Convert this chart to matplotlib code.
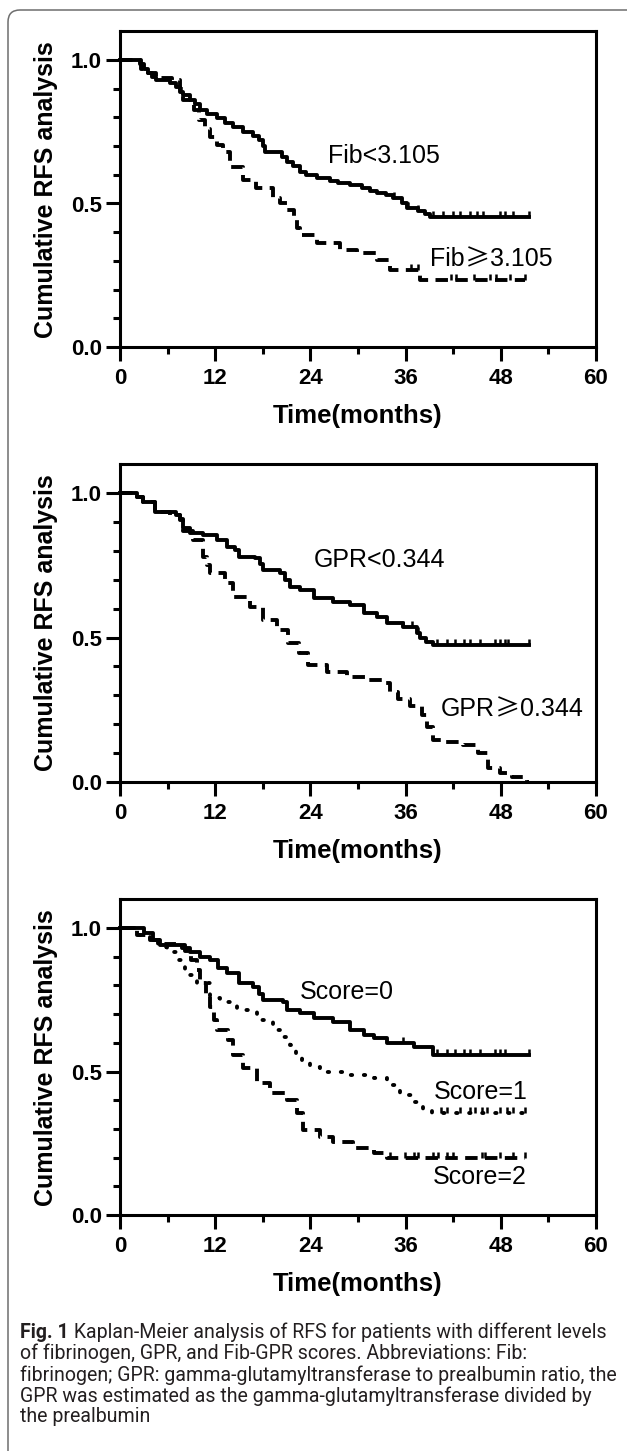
import matplotlib
matplotlib.use('Agg')
import matplotlib.pyplot as plt
from matplotlib.path import Path
from matplotlib.patches import FancyBboxPatch
from matplotlib.transforms import IdentityTransform, offset_copy
from matplotlib.ticker import FixedLocator
from matplotlib import font_manager
import numpy as np

# ---------------- data ----------------
x_ticks = [0, 12, 24, 36, 48, 60]
y_ticks = [0.0, 0.5, 1.0]
y_ticklabels = ["0.0", "0.5", "1.0"]
x_label = "Time(months)"
y_label = "Cumulative RFS analysis"

# Panel 1: fibrinogen
fib_low_t = [0, 2.5, 3.0, 3.5, 4.0, 4.5, 6.3, 7.0, 7.5, 8.0, 8.8, 9.5, 10.1, 11.0, 12.2, 13.2,
             14.3, 15.5, 16.8, 17.5, 18.0, 18.3, 20.4, 21.0, 21.8, 22.7, 23.5, 24.8, 26.5,
             27.5, 29.0, 30.5, 31.5, 32.4, 33.5, 34.4, 35.5, 36.2, 37.5, 38.5, 39.1, 51.5]
fib_low_s = [1.0, 0.985, 0.97, 0.955, 0.94, 0.93, 0.92, 0.905, 0.89, 0.878, 0.862, 0.845, 0.826,
             0.812, 0.798, 0.782, 0.767, 0.75, 0.735, 0.72, 0.70, 0.68, 0.662, 0.645, 0.63, 0.61,
             0.60, 0.589, 0.58, 0.572, 0.564, 0.555, 0.545, 0.537, 0.528, 0.519, 0.50, 0.484,
             0.475, 0.465, 0.453, 0.453]
fib_low_cens = [34.5, 36.3, 37.5, 39.5, 40.7, 42.0, 42.9, 44.1, 45.0, 45.8, 47.9, 48.5, 49.6, 51.5]

fib_high_t = [0, 2.7, 3.5, 4.5, 6.5, 7.5, 8.0, 9.3, 10.0, 10.7, 11.4, 12.2, 13.0, 13.9, 15.5,
              17.2, 19.3, 20.2, 21.0, 21.9, 22.3, 22.7, 24.8, 27.7, 29.9, 32.4, 34.0, 37.8, 51.0]
fib_high_s = [1.0, 0.97, 0.955, 0.937, 0.93, 0.90, 0.86, 0.826, 0.79, 0.76, 0.732, 0.705, 0.68,
              0.627, 0.582, 0.554, 0.519, 0.50, 0.477, 0.442, 0.415, 0.39, 0.362, 0.338, 0.327,
              0.303, 0.268, 0.233, 0.233]
fib_high_cens = [36.7, 37.5, 41.7, 42.3, 44.6, 46.7, 47.4, 49.2, 51.0]

# Panel 2: GPR
gpr_low_t = [0, 2.1, 2.9, 4.4, 7.0, 7.6, 8.0, 8.8, 10.5, 12.2, 13.5, 14.5, 15.0, 17.0, 17.6,
             18.0, 20.2, 20.8, 21.4, 22.7, 24.4, 26.9, 29.0, 30.7, 32.4, 33.7, 35.7, 37.4, 37.8,
             38.6, 39.5, 51.5]
gpr_low_s = [1.0, 0.986, 0.969, 0.934, 0.925, 0.905, 0.879, 0.862, 0.855, 0.837, 0.813, 0.803,
             0.779, 0.775, 0.755, 0.734, 0.723, 0.70, 0.675, 0.664, 0.637, 0.623, 0.612, 0.585,
             0.571, 0.55, 0.536, 0.515, 0.498, 0.485, 0.474, 0.474]
gpr_low_cens = [35.7, 36.8, 37.5, 40.0, 41.2, 42.2, 43.3, 44.1, 45.4, 47.3, 47.9, 48.5, 48.9, 51.5]

gpr_high_t = [0, 2.1, 2.9, 4.4, 6.3, 7.6, 8.0, 9.2, 10.5, 11.0, 11.4, 13.2, 14.3, 16.4, 18.0,
              19.8, 21.2, 22.5, 23.7, 26.1, 28.6, 31.1, 33.3, 34.0, 35.1, 36.6, 38.1, 38.7, 39.5,
              40.9, 43.2, 45.1, 46.4, 47.9, 49.4, 51.3, 51.5]
gpr_high_s = [1.0, 0.986, 0.969, 0.934, 0.925, 0.91, 0.87, 0.837, 0.779, 0.75, 0.723, 0.689,
              0.64, 0.606, 0.561, 0.526, 0.481, 0.446, 0.405, 0.379, 0.363, 0.353, 0.343, 0.31,
              0.288, 0.263, 0.232, 0.19, 0.145, 0.138, 0.128, 0.100, 0.048, 0.031, 0.017, 0.0, 0.0]
gpr_high_cens = []

# Panel 3: Fib-GPR score
score0_t = [0, 3.0, 4.2, 5.0, 7.8, 8.8, 10.1, 11.4, 12.4, 13.5, 15.0, 16.8, 17.5, 18.0, 20.6,
            21.0, 22.7, 24.4, 26.9, 29.0, 30.7, 32.0, 33.7, 37.0, 39.5, 51.5]
score0_s = [1.0, 0.983, 0.958, 0.941, 0.93, 0.916, 0.899, 0.889, 0.861, 0.843, 0.808, 0.794,
            0.77, 0.749, 0.742, 0.714, 0.704, 0.686, 0.672, 0.645, 0.627, 0.617, 0.599, 0.585,
            0.557, 0.557]
score0_cens = [35.7, 40.0, 41.2, 42.2, 43.3, 44.1, 45.4, 47.3, 47.9, 48.5, 51.5]

score1_t = [0, 2.1, 3.8, 4.8, 5.9, 7.3, 8.2, 9.7, 11.4, 12.6, 14.8, 17.3, 19.3, 20.5, 21.4,
            22.2, 22.9, 24.0, 25.2, 28.6, 32.0, 33.7, 35.3, 37.0, 38.2, 39.3, 51.5]
score1_s = [1.0, 0.976, 0.958, 0.934, 0.916, 0.889, 0.836, 0.808, 0.756, 0.742, 0.714, 0.679,
            0.645, 0.62, 0.592, 0.565, 0.54, 0.515, 0.498, 0.488, 0.477, 0.453, 0.418, 0.392,
            0.362, 0.357, 0.357]
score1_cens = [40.4, 41.2, 42.9, 44.1, 44.8, 45.6, 46.3, 47.9, 48.8, 49.6, 51.1]

score2_t = [0, 2.1, 3.8, 5.5, 7.5, 8.2, 9.0, 9.7, 10.1, 10.8, 11.4, 11.8, 12.2, 13.6, 14.3,
            15.5, 17.3, 18.9, 21.0, 22.3, 23.1, 25.2, 26.9, 29.4, 32.0, 33.7, 51.0]
score2_s = [1.0, 0.976, 0.958, 0.945, 0.94, 0.92, 0.89, 0.854, 0.808, 0.77, 0.725, 0.679, 0.645,
            0.61, 0.557, 0.512, 0.46, 0.425, 0.40, 0.355, 0.296, 0.272, 0.254, 0.233, 0.216,
            0.199, 0.199]
score2_cens = [34.0, 35.9, 37.0, 37.5, 39.5, 40.1, 41.2, 42.0, 45.6, 46.0, 47.9, 49.6, 51.0]

group_labels = [["Fib<3.105", "Fib\u22653.105"],
                ["GPR<0.344", "GPR\u22650.344"],
                ["Score=0", "Score=1", "Score=2"]]

caption_bold = "Fig. 1"
caption_lines = [
    " Kaplan-Meier analysis of RFS for patients with different levels",
    "of fibrinogen, GPR, and Fib-GPR scores. Abbreviations: Fib:",
    "fibrinogen; GPR: gamma-glutamyltransferase to prealbumin ratio, the",
    "GPR was estimated as the gamma-glutamyltransferase divided by",
    "the prealbumin",
]

# ---------------- styling / layout ----------------
W, H = 627, 1451
fig = plt.figure(figsize=(W / 100, H / 100), dpi=100)
fig.patch.set_facecolor('white')
renderer = fig.canvas.get_renderer()

AXFONT = 'Liberation Sans'
GEQFONT = 'Noto Sans CJK SC'
names = {f.name for f in font_manager.fontManager.ttflist}
CAPFONT = 'Liberation Sans Narrow' if 'Liberation Sans Narrow' in names else 'Roboto'

LS_SOLID = '-'
LS_DASH = (0, (3.2, 1.9))
LS_DOT = (0, (0.35, 3.0))

panels = [
    dict(y0=347, y1=60, curves=[(fib_low_t, fib_low_s, fib_low_cens, LS_SOLID),
                                (fib_high_t, fib_high_s, fib_high_cens, LS_DASH)],
         labels=[(26.2, 0.665), (39.1, 0.314)]),
    dict(y0=782, y1=493, curves=[(gpr_low_t, gpr_low_s, gpr_low_cens, LS_SOLID),
                                 (gpr_high_t, gpr_high_s, gpr_high_cens, LS_DASH)],
         labels=[(24.4, 0.768), (40.4, 0.262)]),
    dict(y0=1215, y1=928, curves=[(score0_t, score0_s, score0_cens, LS_SOLID),
                                  (score1_t, score1_s, score1_cens, LS_DOT),
                                  (score2_t, score2_s, score2_cens, LS_DASH)],
         labels=[(22.7, 0.777), (39.5, 0.429), (39.4, 0.132)]),
]

tick_up = Path([[0, 0], [0, 1]])
x_left, x_right = 120, 596


def surv_at(ts, ss, t):
    idx = np.searchsorted(np.asarray(ts), t, side='right') - 1
    return ss[max(idx, 0)]


def draw_label(ax, x, y, label, fs):
    """Draw a curve label; the >= sign uses a CJK font (wide, as in the reference)."""
    if '\u2265' not in label:
        ax.text(x, y, label, ha='left', va='center', fontsize=fs, family=AXFONT, color='black')
        return
    a, b = label.split('\u2265')
    pieces = [(a, AXFONT), ('\u2265', GEQFONT), (b, AXFONT)]
    off = 0.0
    base = ax.transData
    for txt, fam in pieces:
        tr = offset_copy(base, fig=fig, x=off, y=0, units='dots')
        t = ax.text(x, y, txt, ha='left', va='center_baseline', fontsize=fs, family=fam,
                    color='black', transform=tr)
        off += t.get_window_extent(renderer).width


for k, p in enumerate(panels):
    span = p['y0'] - p['y1']
    top = p['y0'] - 1.1 * span
    ax = fig.add_axes([x_left / W, 1 - p['y0'] / H, (x_right - x_left) / W, 1.1 * span / H])
    ax.set_xlim(0, 60)
    ax.set_ylim(0, 1.1)
    for sp in ax.spines.values():
        sp.set_linewidth(2.2)
        sp.set_color('black')
    ax.set_xticks(x_ticks)
    ax.set_xticklabels([str(v) for v in x_ticks], fontweight='bold', fontsize=16, family=AXFONT)
    ax.set_yticks(y_ticks)
    ax.set_yticklabels(y_ticklabels, fontweight='bold', fontsize=16, family=AXFONT)
    ax.xaxis.set_minor_locator(FixedLocator([6, 18, 30, 42, 54]))
    ax.yaxis.set_minor_locator(FixedLocator([0.1, 0.2, 0.3, 0.4, 0.6, 0.7, 0.8, 0.9]))
    ax.tick_params(which='major', direction='out', length=10, width=2.2, color='black')
    ax.tick_params(which='minor', direction='out', length=5, width=2.2, color='black')
    ax.tick_params(axis='x', which='major', pad=5)
    ax.tick_params(axis='y', which='major', pad=3)

    for ts, ss, cens, ls in p['curves']:
        ax.step(ts, ss, where='post', color='black', lw=2.8, linestyle=ls,
                dash_capstyle='round' if ls is LS_DOT else 'butt', clip_on=False)
        if cens:
            cs = [surv_at(ts, ss, c) for c in cens]
            ax.plot(cens, cs, linestyle='none', marker=tick_up, markersize=8,
                    markeredgewidth=1.8, color='black', clip_on=False)

    for (lx, ly), lab in zip(p['labels'], group_labels[k]):
        draw_label(ax, lx, ly, lab, 18)

    # axis titles
    fig.text(46 / W, 1 - (top + p['y0']) / 2 / H, y_label, rotation=90, ha='center', va='center',
             fontsize=18, fontweight='bold', family=AXFONT)
    fig.text((x_left + x_right) / 2 / W, 1 - (p['y0'] + 69) / H, x_label, ha='center', va='center',
             fontsize=18.5, fontweight='bold', family=AXFONT)

# ---------------- caption ----------------
cap_color = '#231f20'
cap_x = 20
line_y = [1332, 1353, 1375, 1396, 1417]
target_w = 587.0


def line1_width(fs):
    t1 = fig.text(0, 0, caption_bold, fontsize=fs, fontweight='bold', family=CAPFONT)
    t2 = fig.text(0, 0, caption_lines[0], fontsize=fs, family=CAPFONT)
    w = t1.get_window_extent(renderer).width + t2.get_window_extent(renderer).width
    t1.remove(); t2.remove()
    return w

fs = 13.0
for _ in range(3):
    fs = fs * target_w / line1_width(fs)

tb = fig.text(cap_x / W, 1 - line_y[0] / H, caption_bold, fontsize=fs, fontweight='bold',
              family=CAPFONT, color=cap_color, va='center', ha='left')
bw = tb.get_window_extent(renderer).width
fig.text((cap_x + bw) / W, 1 - line_y[0] / H, caption_lines[0], fontsize=fs, family=CAPFONT,
         color=cap_color, va='center', ha='left')
for ly, txt in zip(line_y[1:], caption_lines[1:]):
    fig.text(cap_x / W, 1 - ly / H, txt, fontsize=fs, family=CAPFONT, color=cap_color,
             va='center', ha='left')

# ---------------- rounded frame ----------------
frame = FancyBboxPatch((8, -30), 700, H - 10 + 30, boxstyle="round,pad=0,rounding_size=12",
                       transform=IdentityTransform(), fill=False, edgecolor='#6e6e6e', linewidth=1.1)
fig.add_artist(frame)

fig.savefig('out.png', dpi=100, facecolor='white')
